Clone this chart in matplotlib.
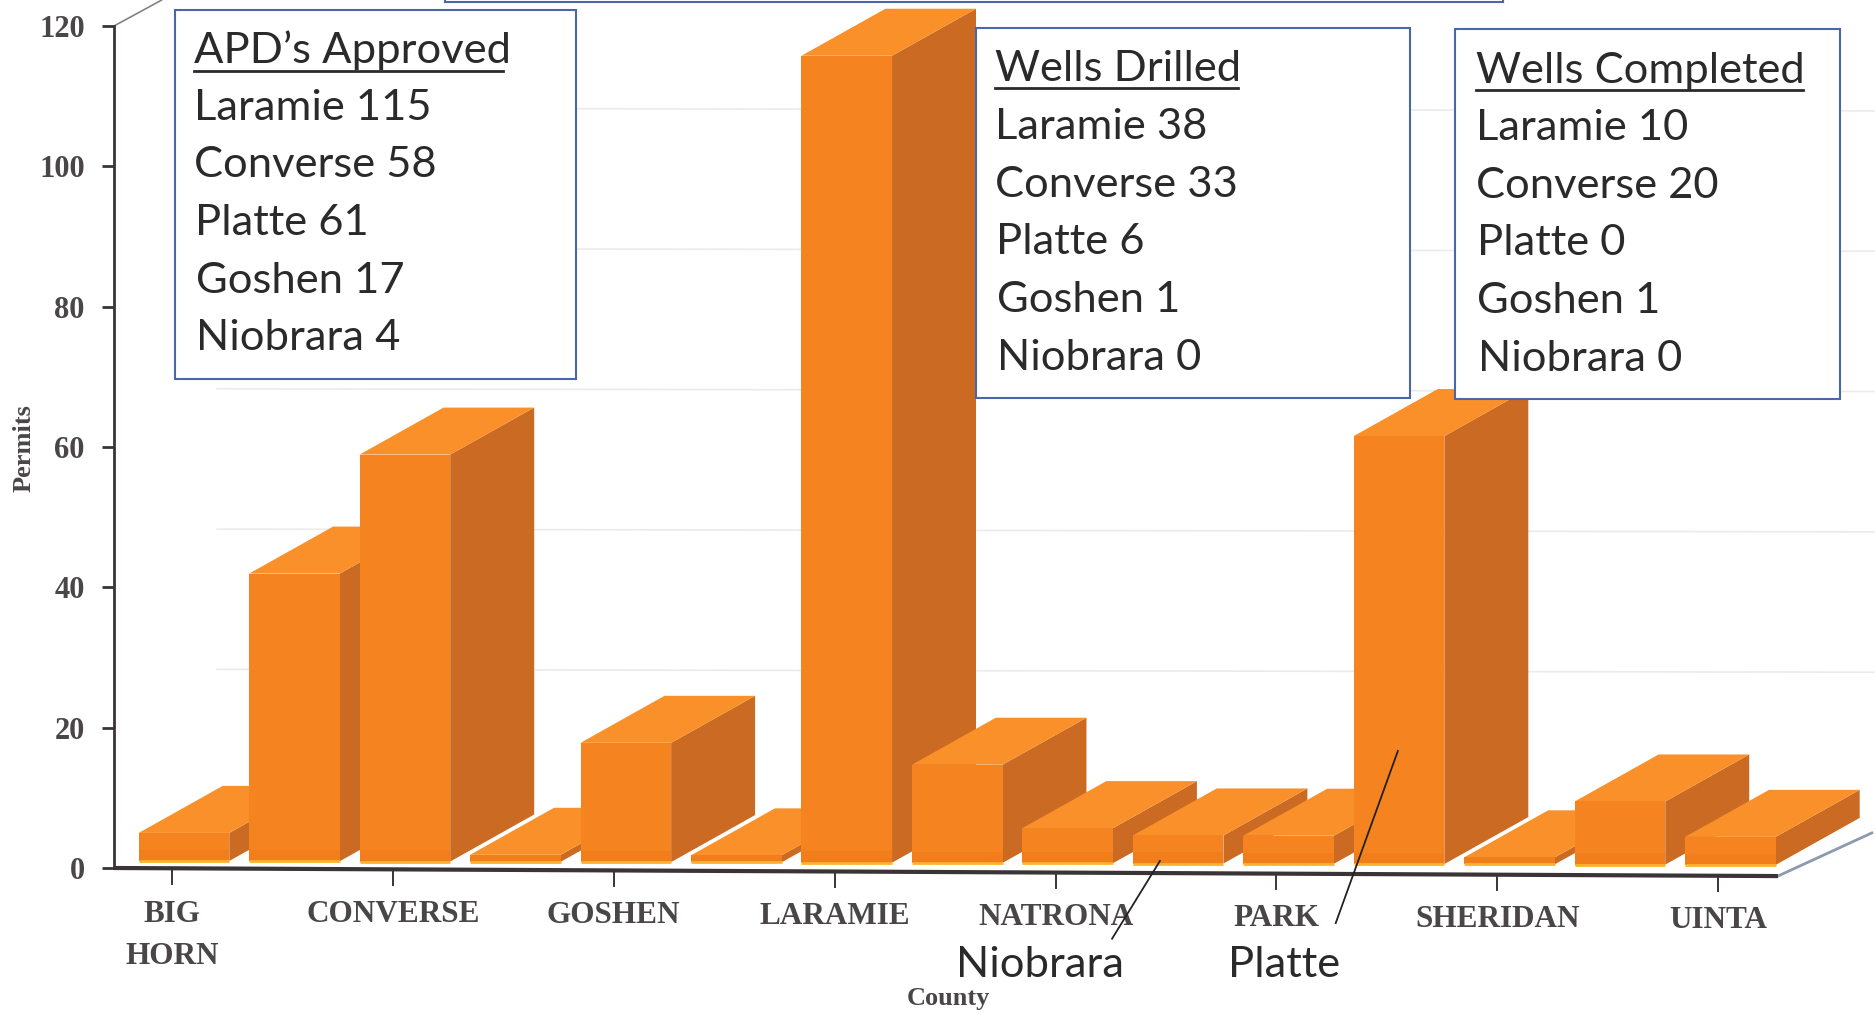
import matplotlib
matplotlib.use("Agg")
import matplotlib.pyplot as plt
from matplotlib.patches import Polygon, Rectangle
from matplotlib.lines import Line2D
from matplotlib.transforms import ScaledTranslation

W, H = 1875, 1014
counties = ["BIG HORN", "CAMPBELL", "CONVERSE", "FREMONT", "GOSHEN", "HOT SPRINGS", "LARAMIE", "LINCOLN",
            "NATRONA", "NIOBRARA", "PARK", "PLATTE", "SHERIDAN", "SUBLETTE", "UINTA"]
permits = [4, 41, 58, 1, 17, 1, 115, 14, 5, 4, 4, 61, 1, 9, 4]
tick_labels = ["BIG\nHORN", "CONVERSE", "GOSHEN", "LARAMIE", "NATRONA", "PARK", "SHERIDAN", "UINTA"]
y_ticks = [0, 20, 40, 60, 80, 100, 120]

apd_title = "APD\u2019s Approved"
apd_lines = ["Laramie 115", "Converse 58", "Platte 61", "Goshen 17", "Niobrara 4"]
drilled_title = "Wells Drilled"
drilled_lines = ["Laramie 38", "Converse 33", "Platte 6", "Goshen 1", "Niobrara 0"]
completed_title = "Wells Completed"
completed_lines = ["Laramie 10", "Converse 20", "Platte 0", "Goshen 1", "Niobrara 0"]

FRONT, FRONT_LOW, SIDE, TOP, BASE = "#F5831F", "#F27E1B", "#CB6A22", "#FA9029", "#FBB32F"
BLUE, GRID, INK, TXT = "#4A68A8", "#EBEBEB", "#3A3436", "#2A2A2A"
S = 1875 / 1568

fig = plt.figure(figsize=(W / 100, H / 100), dpi=100, facecolor="white")
L, R, T, B = 114, 1780, 26, 868
ax = fig.add_axes([L / W, 1 - B / H, (R - L) / W, (B - T) / H])
pitch = 110.46
ax.set_ylim(0, 120)
ax.set_xlim((L - 184) / pitch, (R - 184) / pitch)
x_left = ax.get_xlim()[0]
for s in ["top", "right", "bottom"]:
    ax.spines[s].set_visible(False)
ax.spines["left"].set_linewidth(2)
ax.spines["left"].set_color(INK)
ax.patch.set_visible(False)

width, dx, dy = 0.82, 0.76, 6.7


def base_of(i):
    return 1.0 - 0.04 * i


# back wall gridlines
for v in y_ticks[1:]:
    ax.plot([0.3, 15.4], [v + 8.3, v + 7.9], color=GRID, lw=1.2, zorder=1, clip_on=False)
ax.plot([x_left, x_left + 0.43], [120, 120 + dy * 0.55], color="#8A8080", lw=1.2, clip_on=False, zorder=1)

# axis floor edges
x_end = 14 + width / 2 + 0.02
ax.plot([x_left, x_end], [0, -1.15], color=INK, lw=3, clip_on=False, zorder=4, solid_capstyle="butt")
ax.plot([x_end, x_end + 0.85], [-1.15, 5.0], color="#8C9AAE", lw=2, clip_on=False, zorder=2)

# bars, painted left to right
for i, v in enumerate(permits):
    x0, x1 = i - width / 2, i + width / 2
    b = base_of(i)
    t = b + v
    z = 3 + i * 0.01
    ax.add_patch(Polygon([(x1, b), (x1 + dx, b + dy), (x1 + dx, t + dy), (x1, t)], fc=SIDE, ec="none", zorder=z, clip_on=False))
    ax.add_patch(Polygon([(x0, t), (x0 + dx, t + dy), (x1 + dx, t + dy), (x1, t)], fc=TOP, ec="none", zorder=z, clip_on=False))
    ax.add_patch(Rectangle((x0, b), width, v, fc=FRONT, ec="none", zorder=z, clip_on=False))
    ax.add_patch(Rectangle((x0, b), width, min(1.6, v), fc=FRONT_LOW, ec="none", zorder=z, clip_on=False))
    ax.plot([x0, x1], [b, b], color=BASE, lw=2, zorder=z, clip_on=False, solid_capstyle="butt")

# ticks and labels
xt = [i - 0.11 for i in range(0, 15, 2)]
ax.set_xticks(xt)
ax.set_xticklabels(tick_labels, family="Liberation Serif", fontweight="bold", fontsize=22.5, color="#4A4648", linespacing=1.6)
ax.tick_params(axis="x", length=0, pad=22)
for k, (tick, x) in enumerate(zip(ax.xaxis.get_major_ticks(), xt)):
    off = (1 + k * 0.85) / 100
    tick.label1.set_transform(tick.label1.get_transform() + ScaledTranslation(0, -off, fig.dpi_scale_trans))
    tl = -1.15 * (x - x_left) / (x_end - x_left)
    ax.plot([x, x], [tl, tl - 2.2], color=INK, lw=1.4, clip_on=False, zorder=4)
ax.set_yticks(y_ticks)
ax.set_yticklabels([str(v) for v in y_ticks], family="Liberation Serif", fontweight="bold", fontsize=22, color="#4A4648")
ax.tick_params(axis="y", length=9, width=2, color=INK, pad=12)


def fx(x):
    return x * S / W


def fy(y):
    return 1 - y * S / H


fig.text(fx(20), fy(375), "Permits", rotation=90, family="Liberation Serif", fontweight="bold", fontsize=19, color="#4A4648", ha="center", va="center")
fig.text(fx(793), fy(835), "County", family="Liberation Serif", fontweight="bold", fontsize=19, color="#4A4648", ha="center", va="center")

FS = 31.3


def box(x0, y0, x1, y1, title, lines, tx, title_y, ul_end, ul_y, step=48.2):
    fig.add_artist(Rectangle((fx(x0), fy(y1)), fx(x1) - fx(x0), fy(y0) - fy(y1), transform=fig.transFigure, fc="white", ec=BLUE, lw=1.5, zorder=10))
    fig.text(fx(tx), fy(title_y + 1), title, family="Lato", fontsize=FS, color=TXT, va="center", zorder=11)
    fig.add_artist(Line2D([fx(tx), fx(ul_end)], [fy(ul_y), fy(ul_y)], color=TXT, lw=2, zorder=11))
    for k, s in enumerate(lines):
        fig.text(fx(tx + 0.5 * k), fy(title_y + 1 + step * (k + 1)), s, family="Lato", fontsize=FS, color=TXT, va="center", zorder=11)


box(146, 8, 482, 317, apd_title, apd_lines, 162, 41, 421, 59)
box(816, 23, 1179, 333, drilled_title, drilled_lines, 832, 57, 1035, 74)
box(1217, 24, 1539, 334, completed_title, completed_lines, 1234, 58, 1508, 75)

# top box remnant
for seg in ([(372, 2), (1257, 2)], [(372, 0), (372, 2)], [(1257, 0), (1257, 2)]):
    fig.add_artist(Line2D([fx(seg[0][0]), fx(seg[1][0])], [fy(seg[0][1]), fy(seg[1][1])], color=BLUE, lw=1.5, zorder=10))

# callouts
fig.add_artist(Line2D([fx(970), fx(930)], [fy(720), fy(785)], color="#222222", lw=1.3, zorder=11))
fig.add_artist(Line2D([fx(1169), fx(1117)], [fy(628), fy(772)], color="#222222", lw=1.3, zorder=11))
fig.text(fx(870), fy(807), "Niobrara", family="Lato", fontsize=FS, color=TXT, ha="center", va="center", zorder=11)
fig.text(fx(1074), fy(807), "Platte", family="Lato", fontsize=FS, color=TXT, ha="center", va="center", zorder=11)

fig.savefig("out.png", dpi=100)
